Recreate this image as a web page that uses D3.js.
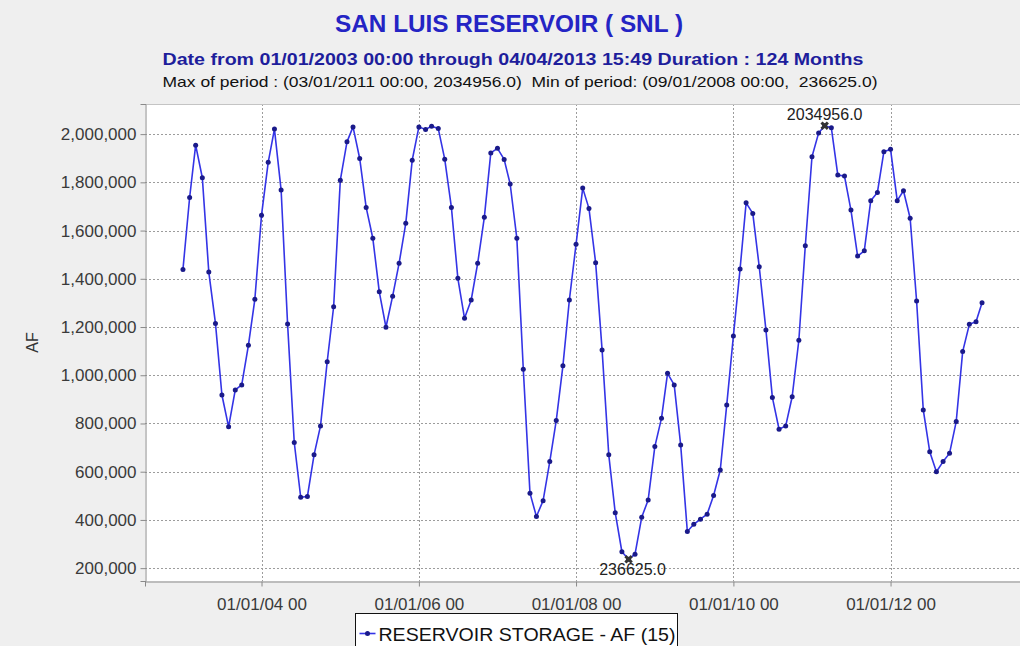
<!DOCTYPE html>
<html>
<head>
<meta charset="utf-8">
<script src="https://cdn.jsdelivr.net/npm/d3@7/dist/d3.min.js"></script>
<style>
  body { margin: 0; background: #efefef; overflow: hidden; }
  text { font-family: "Liberation Sans", Arial, sans-serif; }
  .grid line { stroke: #9c9c9c; stroke-dasharray: 2,2; shape-rendering: crispEdges; }
  .tick-label { font-size: 17px; fill: #3a3a3a; }
</style>
</head>
<body>
<svg id="chart" width="1020" height="646"></svg>
<script>
// Reservoir storage (AF), first of each month, Jan 2003 .. Mar 2013
var firstMonth = "2003-01-01";
var af2003 = [1439000, 1737000, 1954000, 1819000, 1428000, 1215000, 918000, 786000, 939000, 960000, 1124000, 1315000];
var af2004 = [1664000, 1883000, 2021000, 1768000, 1213000, 721000, 494000, 497000, 670000, 790000, 1056000, 1284000];
var af2005 = [1809000, 1968000, 2030000, 1899000, 1696000, 1568000, 1346000, 1199000, 1328000, 1464000, 1630000, 1892000];
var af2006 = [2030000, 2019000, 2033000, 2023000, 1896000, 1696000, 1402000, 1236000, 1312000, 1464000, 1655000, 1922000];
var af2007 = [1941000, 1895000, 1793000, 1568000, 1025000, 511000, 414000, 480000, 642000, 812000, 1039000, 1312000];
var af2008 = [1543000, 1776000, 1692000, 1467000, 1105000, 670000, 430000, 268000, 236625, 258000, 411000, 483000];
var af2009 = [704000, 822000, 1008000, 960000, 711000, 352000, 382000, 403000, 424000, 501000, 607000, 877000];
var af2010 = [1163000, 1441000, 1715000, 1671000, 1450000, 1188000, 908000, 776000, 790000, 911000, 1145000, 1537000];
var af2011 = [1906000, 2005000, 2034956, 2026000, 1830000, 1826000, 1685000, 1494000, 1516000, 1724000, 1758000, 1927000];
var af2012 = [1937000, 1724000, 1765000, 1651000, 1308000, 856000, 683000, 600000, 642000, 676000, 808000, 1098000];
var af2013 = [1211000, 1222000, 1301000];

// Axis ticks
var xTicks = ["2004-01-01", "2006-01-01", "2008-01-01", "2010-01-01", "2012-01-01"];
var yTicks = [200000, 400000, 600000, 800000, 1000000, 1200000, 1400000, 1600000, 1800000, 2000000];

// Texts
var title = "SAN LUIS RESERVOIR ( SNL )";
var subTitle = "Date from 01/01/2003 00:00 through 04/04/2013 15:49 Duration : 124 Months";
var periodText = "Max of period : (03/01/2011 00:00, 2034956.0)  Min of period: (09/01/2008 00:00,  236625.0)";
var yLabel = "AF";
var seriesName = "RESERVOIR STORAGE - AF (15)";

// Build the monthly series
var values = [].concat(af2003, af2004, af2005, af2006, af2007, af2008,
                       af2009, af2010, af2011, af2012, af2013);
var parse = d3.utcParse("%Y-%m-%d");
var t0 = parse(firstMonth);
var data = values.map(function(v, i) {
  return { date: d3.utcMonth.offset(t0, i), value: v };
});

// Plot area
var plot = { left: 145, top: 104, right: 1020, bottom: 581 };
var svg = d3.select("#chart");

// Background
svg.append("rect").attr("width", 1020).attr("height", 646).attr("fill", "#efefef");

// Scales, with a margin round the data like the original chart
var xExt = d3.extent(data, function(d) { return d.date; });
var span = xExt[1] - xExt[0];
var x = d3.scaleUtc()
  .domain([new Date(+xExt[0] - 0.0475 * span), new Date(+xExt[1] + 0.0475 * span)])
  .range([plot.left, plot.right]);

var yMin = d3.min(values), yMax = d3.max(values);
var yPad = 0.05 * (yMax - yMin);
var y = d3.scaleLinear()
  .domain([yMin - yPad, yMax + yPad])
  .range([plot.bottom, plot.top]);

// Plot background
svg.append("rect")
  .attr("x", plot.left).attr("y", plot.top)
  .attr("width", plot.right - plot.left).attr("height", plot.bottom - plot.top)
  .attr("fill", "#ffffff");

// Grid lines
var grid = svg.append("g").attr("class", "grid");
grid.selectAll(".hgrid")
  .data(yTicks).enter().append("line")
  .attr("x1", plot.left).attr("x2", plot.right)
  .attr("y1", function(d) { return Math.round(y(d)) + 0.5; })
  .attr("y2", function(d) { return Math.round(y(d)) + 0.5; });
grid.selectAll(".vgrid")
  .data(xTicks.map(parse)).enter().append("line")
  .attr("y1", plot.top).attr("y2", plot.bottom)
  .attr("x1", function(d) { return Math.round(x(d)) + 0.5; })
  .attr("x2", function(d) { return Math.round(x(d)) + 0.5; });

// Plot border
svg.append("line")
  .attr("x1", plot.left).attr("x2", plot.right)
  .attr("y1", plot.top + 0.5).attr("y2", plot.top + 0.5)
  .attr("stroke", "#c4c4c4");

// Y axis
var yAxis = svg.append("g")
  .attr("transform", "translate(" + (plot.left + 0.5) + ",0)")
  .call(d3.axisLeft(y).tickValues(yTicks).tickSize(5).tickPadding(4)
    .tickFormat(d3.format(",")));
yAxis.select(".domain").attr("stroke", "#8a8a8a");
yAxis.selectAll(".tick line").attr("stroke", "#8a8a8a");
yAxis.selectAll(".tick text").attr("class", "tick-label")
  .attr("font-family", null).attr("font-size", null);

// X axis
var xAxis = svg.append("g")
  .attr("transform", "translate(0," + (plot.bottom + 0.5) + ")")
  .call(d3.axisBottom(x).tickValues(xTicks.map(parse)).tickSize(5).tickPadding(11)
    .tickFormat(d3.utcFormat("%m/%d/%y %H")));
xAxis.select(".domain").attr("stroke", "#8a8a8a");
xAxis.selectAll(".tick line").attr("stroke", "#8a8a8a");
xAxis.selectAll(".tick text").attr("class", "tick-label")
  .attr("font-family", null).attr("font-size", null);

// Y axis label
svg.append("text")
  .attr("transform", "translate(38," + ((plot.top + plot.bottom) / 2) + ") rotate(-90)")
  .attr("text-anchor", "middle")
  .attr("font-size", 16).attr("fill", "#333")
  .text(yLabel);

// Series line and markers
svg.append("clipPath").attr("id", "plotclip")
  .append("rect")
  .attr("x", plot.left).attr("y", plot.top)
  .attr("width", plot.right - plot.left).attr("height", plot.bottom - plot.top);

var series = svg.append("g").attr("clip-path", "url(#plotclip)");
series.append("path")
  .datum(data)
  .attr("fill", "none")
  .attr("stroke", "#3434e6")
  .attr("stroke-width", 1.6)
  .attr("stroke-linejoin", "round")
  .attr("d", d3.line()
    .x(function(d) { return x(d.date); })
    .y(function(d) { return y(d.value); }));

series.selectAll(".pt")
  .data(data).enter().append("circle")
  .attr("cx", function(d) { return x(d.date); })
  .attr("cy", function(d) { return y(d.value); })
  .attr("r", 2.5)
  .attr("fill", "#1a1a8a");

// Max / min annotations
var maxPt = data.find(function(d) { return d.value === yMax; });
var minPt = data.find(function(d) { return d.value === yMin; });
var marker = d3.symbol().type(d3.symbolCross).size(45);

[maxPt, minPt].forEach(function(p) {
  series.append("path")
    .attr("d", marker)
    .attr("transform", "translate(" + x(p.date) + "," + y(p.value) + ") rotate(45)")
    .attr("fill", "#333");
});
svg.append("text")
  .attr("x", x(maxPt.date)).attr("y", y(maxPt.value) - 6)
  .attr("text-anchor", "middle").attr("font-size", 16).attr("fill", "#222")
  .text(maxPt.value.toFixed(1));
svg.append("text")
  .attr("x", x(minPt.date) + 4).attr("y", y(minPt.value) + 16)
  .attr("text-anchor", "middle").attr("font-size", 16).attr("fill", "#222")
  .text(minPt.value.toFixed(1));

// Titles
svg.append("text")
  .attr("x", 509).attr("y", 32)
  .attr("text-anchor", "middle").attr("font-size", 24).attr("font-weight", "bold")
  .attr("fill", "#2424c4")
  .attr("textLength", 348).attr("lengthAdjust", "spacingAndGlyphs")
  .text(title);
svg.append("text")
  .attr("x", 513).attr("y", 65)
  .attr("text-anchor", "middle").attr("font-size", 17).attr("font-weight", "bold")
  .attr("fill", "#1e1e9c")
  .attr("textLength", 701).attr("lengthAdjust", "spacingAndGlyphs")
  .text(subTitle);
svg.append("text")
  .attr("x", 520).attr("y", 87)
  .attr("text-anchor", "middle").attr("font-size", 15)
  .attr("fill", "#111")
  .attr("textLength", 715).attr("lengthAdjust", "spacingAndGlyphs")
  .attr("xml:space", "preserve")
  .text(periodText);

// Legend
var legend = svg.append("g").attr("transform", "translate(355.5,613.5)");
legend.append("rect")
  .attr("width", 322).attr("height", 50)
  .attr("fill", "#ffffff").attr("stroke", "#111");
legend.append("line")
  .attr("x1", 4).attr("x2", 20).attr("y1", 20).attr("y2", 20)
  .attr("stroke", "#3434e6").attr("stroke-width", 1.6);
legend.append("circle").attr("cx", 12).attr("cy", 20).attr("r", 2.5).attr("fill", "#1a1a8a");
legend.append("text")
  .attr("x", 23).attr("y", 27)
  .attr("font-size", 19).attr("fill", "#111")
  .attr("textLength", 297).attr("lengthAdjust", "spacingAndGlyphs")
  .text(seriesName);
</script>
</body>
</html>
